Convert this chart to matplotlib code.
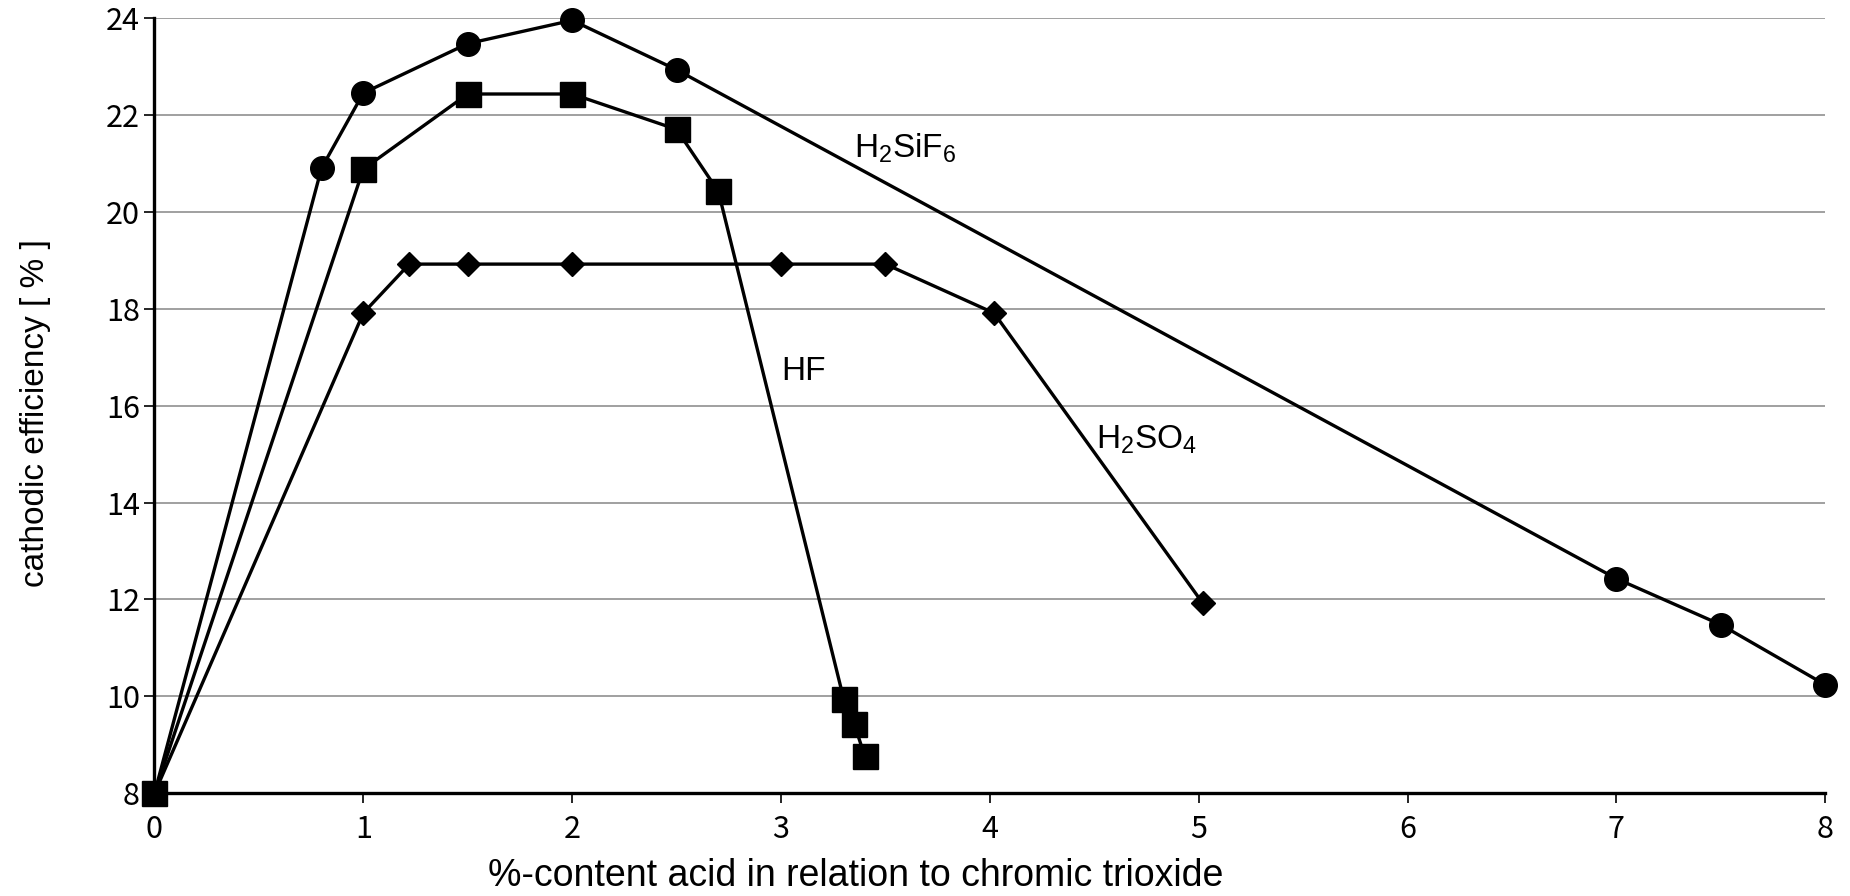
import matplotlib
matplotlib.use('Agg')
import matplotlib.pyplot as plt
import matplotlib as mpl

mpl.rcParams['font.family'] = ['Liberation Sans', 'DejaVu Sans']
mpl.rcParams['mathtext.fontset'] = 'custom'
mpl.rcParams['mathtext.rm'] = 'Liberation Sans'
mpl.rcParams['mathtext.it'] = 'Liberation Sans'

# data
x_h2sif6 = [0, 0.8, 1.0, 1.5, 2.0, 2.5, 7.0, 7.5, 8.0]
y_h2sif6 = [8, 20.9, 22.45, 23.47, 23.95, 22.93, 12.43, 11.48, 10.24]

x_hf = [0, 1.0, 1.5, 2.0, 2.5, 2.7, 3.3, 3.35, 3.4]
y_hf = [8, 20.88, 22.43, 22.43, 21.7, 20.42, 9.95, 9.44, 8.78]

x_h2so4 = [0, 1.0, 1.22, 1.5, 2.0, 3.0, 3.5, 4.02, 5.02]
y_h2so4 = [8, 17.91, 18.92, 18.92, 18.92, 18.92, 18.92, 17.91, 11.92]

fig = plt.figure(figsize=(18.5, 8.96), dpi=100)
ax = fig.add_axes([0.0835, 0.1146, 0.9031, 0.8654])

lw = 2.4
ax.plot(x_h2sif6, y_h2sif6, color='black', lw=lw, marker='o', markersize=17, clip_on=False, zorder=3)
ax.plot(x_h2so4, y_h2so4, color='black', lw=lw, marker='D', markersize=12, clip_on=False, zorder=3)
ax.plot(x_hf, y_hf, color='black', lw=lw, marker='s', markersize=18, clip_on=False, zorder=4)

# series labels
ax.text(3.35, 21.3, r'H$_2$SiF$_6$', fontsize=24, va='center', ha='left')
ax.text(3.0, 16.7, 'HF', fontsize=24, va='center', ha='left')
ax.text(4.51, 15.3, r'H$_2$SO$_4$', fontsize=24, va='center', ha='left')

ax.set_xlim(0, 8)
ax.set_ylim(8, 24)
ax.set_xticks(range(0, 9))
ax.set_yticks(range(8, 25, 2))
ax.yaxis.grid(True, color='#999999', lw=1.3)
ax.set_axisbelow(True)

for s in ['top', 'right']:
    ax.spines[s].set_visible(False)
for s in ['left', 'bottom']:
    ax.spines[s].set_linewidth(2.4)

ax.tick_params(axis='both', labelsize=22, width=1.2, length=7)
for lab in ax.get_xticklabels() + ax.get_yticklabels():
    lab.set_family(['Noto Sans CJK JP', 'DejaVu Sans'])
    lab.set_fontsize(22)
ax.tick_params(axis='x', pad=8)

ax.set_xlabel('%-content acid in relation to chromic trioxide', fontsize=27)
ax.xaxis.set_label_coords(0.42, -0.084)
ax.set_ylabel('cathodic efficiency [ % ]', fontsize=24)
ax.yaxis.set_label_coords(-0.062, 0.49)

plt.savefig('out.png', dpi=100)
